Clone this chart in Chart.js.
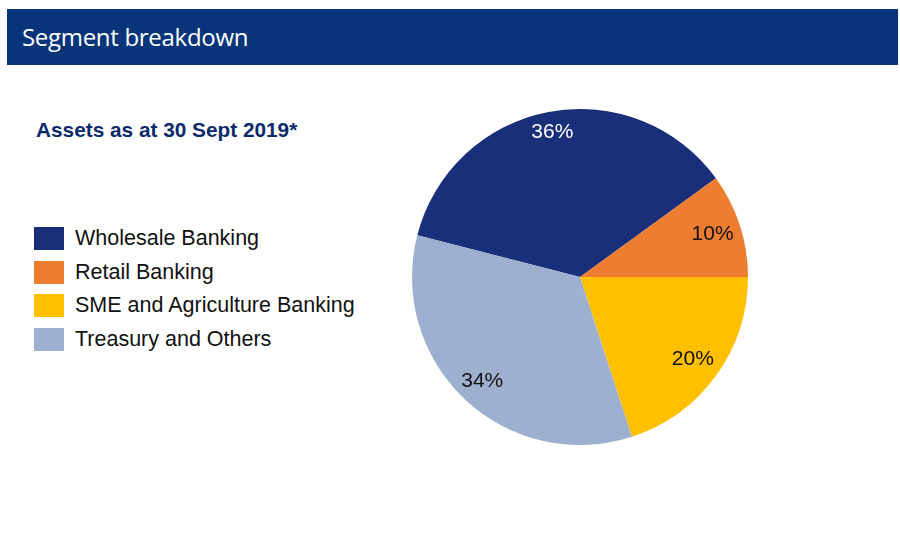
<!DOCTYPE html>
<html>
<head>
<meta charset="utf-8">
<script src="https://cdn.jsdelivr.net/npm/chart.js@4/dist/chart.umd.min.js"></script>
<style>
  html, body { margin: 0; padding: 0; background: #fff; }
  #wrap { position: relative; width: 900px; height: 550px; overflow: hidden; }
  #header { position: absolute; left: 7px; top: 9px; width: 891px; height: 56px; background: #083579; }
  #header span { position: absolute; left: 15px; top: 11px; color: #fff; font-family: "Open Sans", sans-serif; font-size: 24px; letter-spacing: -0.3px; }
  #subtitle { position: absolute; left: 36px; top: 118px; color: #0b2a6b; font-family: "Liberation Sans", Arial, sans-serif; font-weight: bold; font-size: 20.8px; }
  #legend { position: absolute; left: 34px; top: 226px; font-family: "Liberation Sans", Arial, sans-serif; font-size: 21.5px; color: #111; }
  .item { position: relative; height: 33.7px; }
  .box { position: absolute; left: 0; top: 1px; width: 30px; height: 23px; }
  .lbl { position: absolute; left: 41px; top: 0px; white-space: nowrap; }
  canvas { position: absolute; left: 0; top: 0; }
</style>
</head>
<body>
<div id="wrap">
  <div id="header"><span>Segment breakdown</span></div>
  <div id="subtitle">Assets as at 30 Sept 2019*</div>
  <div id="legend"></div>
  <canvas id="c" width="900" height="550"></canvas>
</div>
<script>
const categories = ["Wholesale Banking", "Retail Banking", "SME and Agriculture Banking", "Treasury and Others"];
const values = [36, 10, 20, 34];
const colors = ["#1a2f7a", "#ed7d31", "#ffc000", "#9db0cf"];
const labelColors = ["#ffffff", "#111111", "#111111", "#111111"];
const labelRadius = [0.88, 0.83, 0.83, 0.85];

const legend = document.getElementById('legend');
categories.forEach((c, i) => {
  const d = document.createElement('div');
  d.className = 'item';
  d.innerHTML = '<div class="box" style="background:' + colors[i] + '"></div><div class="lbl">' + c + '</div>';
  legend.appendChild(d);
});

const labelPlugin = {
  id: 'sliceLabels',
  afterDatasetsDraw(chart) {
    const ctx = chart.ctx;
    const meta = chart.getDatasetMeta(0);
    ctx.save();
    ctx.font = '21px "Liberation Sans", Arial, sans-serif';
    ctx.textAlign = 'center';
    ctx.textBaseline = 'middle';
    meta.data.forEach((arc, i) => {
      const p = arc.getProps(['x', 'y', 'startAngle', 'endAngle', 'outerRadius']);
      const a = (p.startAngle + p.endAngle) / 2;
      const r = p.outerRadius * labelRadius[i];
      ctx.fillStyle = labelColors[i];
      ctx.fillText(values[i] + '%', p.x + Math.cos(a) * r, p.y + Math.sin(a) * r);
    });
    ctx.restore();
  }
};

new Chart(document.getElementById('c'), {
  type: 'pie',
  data: {
    labels: categories,
    datasets: [{ data: values, backgroundColor: colors, borderWidth: 0 }]
  },
  options: {
    responsive: false,
    animation: false,
    rotation: -75.6,
    layout: { padding: { left: 412, right: 152, top: 109, bottom: 105 } },
    plugins: { legend: { display: false }, tooltip: { enabled: false } }
  },
  plugins: [labelPlugin]
});
</script>
</body>
</html>
